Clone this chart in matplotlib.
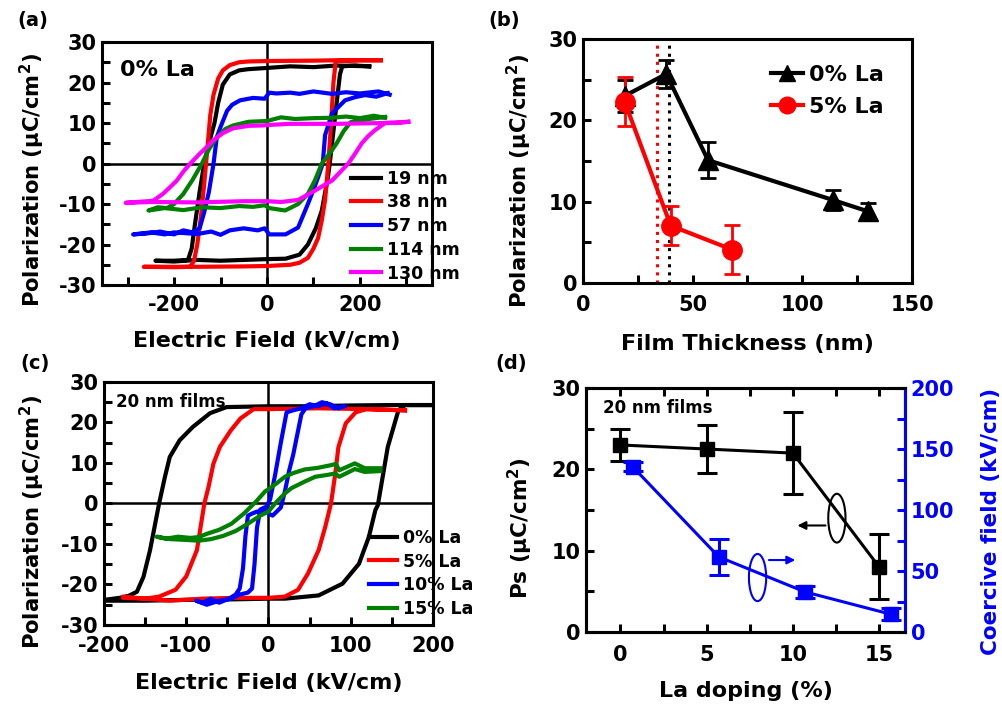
import matplotlib
matplotlib.use("Agg")
import matplotlib.pyplot as plt
from matplotlib.patches import Ellipse
from matplotlib.lines import Line2D

plt.rcParams['font.family'] = ['DejaVu Sans']
plt.rcParams['font.weight'] = 'bold'
plt.rcParams['axes.labelweight'] = 'bold'
plt.rcParams['axes.unicode_minus'] = False

# ---------------- Panel (a): 0% La, thickness series ----------------
a_labels = ['19 nm', '38 nm', '57 nm', '114 nm', '130 nm']
a_colors = ['black', 'red', 'blue', 'green', 'magenta']

a19_up_E = [220, 150, 100, 50, 0, -40, -60, -80, -95, -105, -113, -125, -135, -145, -155, -162, -170, -200, -240]
a19_up_P = [24, 24.2, 23.8, 24, 23.6, 23.3, 23, 22, 19.5, 15, 10, 5, 0, -7, -15, -21, -23.8, -24, -24]
a19_dn_E = [-240, -200, -150, -100, -50, 0, 40, 70, 88, 105, 118, 131, 135, 145, 152, 157, 162, 190, 220]
a19_dn_P = [-24, -24.2, -23.8, -24, -23.8, -23.6, -23.5, -22.5, -20, -16, -11.6, -3.5, 0, 10, 17, 22, 24, 24.2, 24]

a38_up_E = [245, 150, 100, 0, -40, -60, -80, -95, -105, -115, -122, -128, -135, -142, -150, -157, -165, -200, -265]
a38_up_P = [25.5, 25.5, 25.4, 25.3, 25.2, 25, 24.3, 23, 21, 17, 12, 4, -5, -13, -20, -24, -25.5, -25.6, -25.5]
a38_dn_E = [-265, -150, -50, 0, 50, 70, 88, 100, 110, 118, 125, 132, 138, 143, 148, 200, 245]
a38_dn_P = [-25.5, -25.5, -25.4, -25.3, -25, -24.5, -23.3, -21, -18.4, -14, -9, 0, 10, 20, 25.3, 25.5, 25.5]

a57_up_E = [264, 240, 200, 170, 140, 100, 70, 50, 20, 5, -5, -30, -58, -75, -86, -100, -108, -115, -125, -135, -145, -160, -180, -200, -230, -260, -288]
a57_up_P = [17, 17.8, 17.3, 17.6, 17.2, 17.8, 17.2, 17.5, 17.3, 17.5, 16, 16.2, 15.6, 14.5, 13, 9, 6.5, 0, -7, -12, -16, -17, -16.5, -17.5, -16.8, -17.3, -17.5]
a57_dn_E = [-288, -250, -220, -200, -150, -120, -100, -80, -50, -20, -5, 5, 40, 67, 88, 100, 110, 120, 125, 140, 168, 190, 211, 235, 260]
a57_dn_P = [-17.5, -17, -17.5, -17, -17.4, -16.8, -17.6, -16.5, -16, -16.5, -16, -17.5, -17.5, -15.8, -10, -6.5, -3.4, 0, 7, 12.4, 15.6, 16.4, 16.9, 16.5, 17.4]

a114_up_E = [254, 230, 200, 170, 140, 100, 60, 30, 0, -40, -73, -90, -108, -125, -140, -160, -180, -200, -215, -235, -255]
a114_up_P = [11.3, 11.8, 11.2, 11.6, 11.3, 11.2, 11, 11.4, 10.5, 10.3, 9.4, 8.5, 6.5, 3.5, 0, -4, -7.5, -10, -11, -10.8, -11.6]
a114_dn_E = [-255, -220, -180, -140, -100, -60, -30, -5, 5, 39, 67, 88, 103, 118, 135, 150, 165, 180, 220, 254]
a114_dn_P = [-11.6, -11, -11.5, -10.8, -11, -10.5, -10.7, -10.3, -11, -11.6, -10, -7.5, -4.2, 0, 2.5, 5, 8, 10.2, 11, 11.5]

a130_up_E = [304, 250, 150, 50, 0, -9, -40, -73, -95, -116, -130, -144, -165, -180, -194, -210, -224, -245, -304]
a130_up_P = [10.3, 10, 9.8, 9.8, 9.5, 9.4, 9.3, 8.7, 7.5, 5.7, 4, 2.5, 0, -2, -4.2, -6, -7.5, -9.2, -9.7]
a130_dn_E = [-304, -250, -150, -50, 0, 30, 67, 103, 140, 175, 190, 204, 218, 232, 254, 280, 304]
a130_dn_P = [-9.7, -9.5, -9.6, -9.3, -9.3, -9.5, -9, -6.7, -4.2, 0, 2.5, 5, 6.8, 8.2, 10, 10, 10.3]

# ---------------- Panel (b): Polarization vs thickness ----------------
b_t0 = [19, 38, 57, 114, 130]
b_P0 = [23, 25.7, 15.1, 10.2, 8.8]
b_err0 = [2.0, 1.7, 2.2, 1.2, 1.0]
b_t5 = [19, 40, 68]
b_P5 = [22.3, 7.05, 4.1]
b_err5 = [3.0, 2.4, 3.0]
b_vline0 = 39.4
b_vline5 = 33.7
b_labels = ['0% La', '5% La']

# ---------------- Panel (c): 20 nm films, La series ----------------
c_labels = ['0% La', '5% La', '10% La', '15% La']
c_colors = ['black', 'red', 'blue', 'green']

c0_up_E = [200, 150, 100, 50, 0, -51, -71, -92, -108, -120, -126, -133, -144, -152, -160, -170, -181, -200]
c0_up_P = [24.3, 24.3, 24.2, 24, 24, 23.8, 22.3, 18.9, 15.6, 11.5, 6.5, 0, -11.5, -18.1, -21.8, -22.8, -23.3, -23.8]
c0_dn_E = [-200, -150, -100, -50, 0, 20, 61, 90, 110, 122, 130, 133, 145, 158, 166, 180, 200]
c0_dn_P = [-24, -24, -23.8, -23.7, -23.5, -23.5, -22.7, -19.8, -14.9, -8.3, -1.6, -0.4, 13.9, 23, 24.3, 24.3, 24.3]

c5_up_E = [166, 120, 60, 0, -18, -34, -46, -59, -67, -73, -78, -87, -100, -113, -133, -150, -177]
c5_up_P = [23, 23.3, 23.5, 23.3, 23.3, 21, 18, 14, 9.8, 4, 0, -11.5, -18, -21.3, -23, -23.5, -23]
c5_dn_E = [-177, -150, -120, -80, -40, 0, 20, 36, 48, 61, 69, 76, 81, 85, 94, 106, 119, 166]
c5_dn_P = [-23.3, -23.5, -24, -23.5, -23.3, -23.3, -23, -21.3, -17.3, -11.5, -5.8, 0, 7, 13.9, 19.8, 22.5, 23.3, 23]

c10_up_E = [92, 80, 70, 60, 50, 40, 30, 22, 15, 8, 2, -3, -8, -14, -20, -25, -28, -31, -35, -40, -48, -60, -70, -80, -88]
c10_up_P = [24, 23.5, 24.8, 24, 24.5, 23.5, 23, 22.5, 15, 7, 1, -1, -2, -2, -2.5, -3, -8, -16, -21, -22.5, -23.5, -24.5, -23.5, -24.5, -24]
c10_dn_E = [-88, -75, -60, -45, -35, -25, -20, -17, -14, -10, -5, 0, 5, 10, 15, 20, 25, 30, 35, 40, 45, 55, 65, 75, 85, 92]
c10_dn_P = [-24, -25, -24, -23.5, -22.5, -22, -21, -15, -6, -1.5, -1, -2.5, -3, -2, -1, 3, 8, 12, 17, 22, 23.5, 24, 25, 24.5, 23.5, 24]

c15_up_E = [136, 117, 105, 95, 86, 82, 77, 60, 44, 30, 20, 10, 0, -4, -15, -30, -45, -60, -75, -85, -95, -110, -125, -136]
c15_up_P = [8.7, 8.7, 9.9, 9.0, 8.2, 9.8, 9.5, 8.8, 8.4, 7.5, 6.6, 5, 3.5, 3.0, 0.5, -2.5, -5, -6.5, -7.5, -8.3, -8.5, -8.2, -8.7, -8.2]
c15_dn_E = [-136, -120, -100, -85, -70, -55, -40, -25, -10, 0, 8, 20, 28, 45, 57, 70, 81, 86, 95, 105, 117, 136]
c15_dn_P = [-8.2, -8.8, -9, -9.2, -8.8, -8, -6.8, -5, -3, -2, 0, 2.5, 3.8, 5.5, 6.6, 7, 7.4, 6.6, 7.5, 8.5, 7.8, 8]

# ---------------- Panel (d): Ps and coercive field vs La ----------------
d_La_Ps = [0, 5, 10, 15]
d_Ps = [23, 22.5, 22, 8]
d_Ps_err = [2, 3, 5, 4]
d_La_Ec = [0.7, 5.7, 10.7, 15.7]
d_Ec = [135.6, 61.6, 32.9, 14.5]
d_Ec_err = [4, 14.5, 5, 5]

LW = 3.0
SPW = 2.2
TICKFS = 15
LABFS = 16
YLABFS = 15.2

fig = plt.figure(figsize=(10.02, 7.05), dpi=100)
axa = fig.add_axes([0.1018, 0.5957, 0.3293, 0.3447])
axb = fig.add_axes([0.5818, 0.5986, 0.3284, 0.3461])
axc = fig.add_axes([0.1038, 0.1135, 0.3283, 0.3447])
axd = fig.add_axes([0.5848, 0.1035, 0.3184, 0.3461])


def style(ax, top=False, right=False, xpad=6):
    for s in ax.spines.values():
        s.set_linewidth(SPW)
    ax.tick_params(which='both', direction='in', top=top, right=right, width=SPW,
                   labelsize=TICKFS)
    ax.tick_params(axis='x', which='both', pad=xpad)
    ax.tick_params(axis='y', which='both', pad=4)
    ax.tick_params(which='major', length=6)
    ax.tick_params(which='minor', length=6)
    for lab in ax.get_xticklabels() + ax.get_yticklabels():
        lab.set_fontweight('bold')


# ---- (a)
ups = [(a19_up_E, a19_up_P), (a38_up_E, a38_up_P), (a57_up_E, a57_up_P), (a114_up_E, a114_up_P), (a130_up_E, a130_up_P)]
dns = [(a19_dn_E, a19_dn_P), (a38_dn_E, a38_dn_P), (a57_dn_E, a57_dn_P), (a114_dn_E, a114_dn_P), (a130_dn_E, a130_dn_P)]
axa.axhline(0, color='black', lw=1.8, zorder=1)
axa.axvline(0, color='black', lw=1.8, zorder=1)
for (ue, up), (de, dp), c, l in zip(ups, dns, a_colors, a_labels):
    axa.plot(ue + de, up + dp, color=c, lw=LW, label=l, solid_joinstyle='round', zorder=3)
axa.set_xlim(-355, 355)
axa.set_ylim(-30, 30)
axa.set_xticks([-200, 0, 200])
axa.set_xticks([-300, -100, 100, 300], minor=True)
axa.set_yticks([-30, -20, -10, 0, 10, 20, 30])
axa.set_yticks([-25, -15, -5, 5, 15, 25], minor=True)
style(axa, xpad=7)
axa.set_xlabel('Electric Field (kV/cm)', fontsize=LABFS, fontweight='bold', labelpad=12)
axa.set_ylabel('Polarization (μC/cm$^\\mathbf{2}$)', fontsize=YLABFS, fontweight='bold')
axa.yaxis.set_label_coords(-0.166, 0.43)
axa.text(0.055, 0.925, '0% La', transform=axa.transAxes, fontsize=16, fontweight='bold', va='top')
axa.legend(loc='upper left', bbox_to_anchor=(0.755, 0.475), frameon=False, fontsize=12.5,
           handlelength=1.7, handletextpad=0.35, labelspacing=0.33, borderaxespad=0, borderpad=0)

# ---- (b)
axb.axvline(b_vline5, ymax=29.5 / 30, color='red', ls=':', lw=2.2, zorder=1)
axb.axvline(b_vline0, ymax=29.5 / 30, color='black', ls=':', lw=2.2, zorder=1)
axb.errorbar(b_t0, b_P0, yerr=b_err0, color='black', lw=LW, marker='^', ms=15, capsize=6,
             elinewidth=2, capthick=2, zorder=3)
axb.errorbar(b_t5, b_P5, yerr=b_err5, color='red', lw=LW, marker='o', ms=14, capsize=6,
             elinewidth=2, capthick=2, zorder=3)
axb.set_xlim(0, 150)
axb.set_ylim(0, 30)
axb.set_xticks([0, 50, 100, 150])
axb.set_xticks([25, 75, 125], minor=True)
axb.set_yticks([0, 10, 20, 30])
axb.set_yticks([5, 15, 25], minor=True)
style(axb, xpad=9)
axb.set_xlabel('Film Thickness (nm)', fontsize=LABFS, fontweight='bold', labelpad=13)
axb.set_ylabel('Polarization (μC/cm$^\\mathbf{2}$)', fontsize=YLABFS, fontweight='bold')
axb.yaxis.set_label_coords(-0.148, 0.418)
b_handles = [Line2D([], [], color='black', lw=LW, marker='^', ms=12),
             Line2D([], [], color='red', lw=LW, marker='o', ms=12)]
axb.legend(b_handles, b_labels, loc='upper left', bbox_to_anchor=(0.57, 0.895), frameon=False,
           fontsize=16, handlelength=1.45, handletextpad=0.3, labelspacing=0.55,
           borderaxespad=0, borderpad=0)

# ---- (c)
ups = [(c0_up_E, c0_up_P), (c5_up_E, c5_up_P), (c10_up_E, c10_up_P), (c15_up_E, c15_up_P)]
dns = [(c0_dn_E, c0_dn_P), (c5_dn_E, c5_dn_P), (c10_dn_E, c10_dn_P), (c15_dn_E, c15_dn_P)]
axc.axhline(0, color='black', lw=1.8, zorder=1)
axc.axvline(0, color='black', lw=1.8, zorder=1)
for (ue, up), (de, dp), c, l in zip(ups, dns, c_colors, c_labels):
    axc.plot(ue + de, up + dp, color=c, lw=LW, label=l, solid_joinstyle='round', zorder=3)
axc.set_xlim(-200, 200)
axc.set_ylim(-30, 30)
axc.set_xticks([-200, -100, 0, 100, 200])
axc.set_xticks([-150, -50, 50, 150], minor=True)
axc.set_yticks([-30, -20, -10, 0, 10, 20, 30])
axc.set_yticks([-25, -15, -5, 5, 15, 25], minor=True)
style(axc, xpad=8)
axc.set_xlabel('Electric Field (kV/cm)', fontsize=LABFS, fontweight='bold', labelpad=12)
axc.set_ylabel('Polarization (μC/cm$^\\mathbf{2}$)', fontsize=YLABFS, fontweight='bold')
axc.yaxis.set_label_coords(-0.173, 0.424)
axc.text(0.035, 0.955, '20 nm films', transform=axc.transAxes, fontsize=12, fontweight='bold', va='top')
axc.legend(loc='upper left', bbox_to_anchor=(0.805, 0.395), frameon=False, fontsize=12.5,
           handlelength=1.6, handletextpad=0.35, labelspacing=0.32, borderaxespad=0, borderpad=0)

# ---- (d)
axd2 = axd.twinx()
axd.errorbar(d_La_Ps, d_Ps, yerr=d_Ps_err, color='black', lw=2.2, marker='s', ms=10, capsize=7,
             elinewidth=2.2, capthick=2.2, zorder=3)
axd2.errorbar(d_La_Ec, d_Ec, yerr=d_Ec_err, color='blue', lw=2.2, marker='s', ms=10, capsize=7,
              elinewidth=2.2, capthick=2.2, zorder=3)
axd.set_xlim(-2.0, 16.5)
axd.set_ylim(0, 30)
axd2.set_ylim(0, 200)
axd.set_xticks([0, 5, 10, 15])
axd.set_xticks([2.5, 7.5, 12.5], minor=True)
axd.set_yticks([0, 10, 20, 30])
axd.set_yticks([5, 15, 25], minor=True)
axd2.set_yticks([0, 50, 100, 150, 200])
axd2.set_yticks([25, 75, 125, 175], minor=True)
style(axd, top=True, xpad=9)
for s in axd2.spines.values():
    s.set_linewidth(SPW)
axd2.spines['right'].set_color('blue')
axd2.tick_params(which='both', direction='in', width=SPW, length=6, colors='blue',
                 labelsize=TICKFS, pad=4)
for lab in axd2.get_yticklabels():
    lab.set_fontweight('bold')
axd.set_xlabel('La doping (%)', fontsize=LABFS, fontweight='bold', labelpad=12)
axd.set_ylabel('Ps (μC/cm$^\\mathbf{2}$)', fontsize=15.5, fontweight='bold')
axd.yaxis.set_label_coords(-0.16, 0.426)
axd2.set_ylabel('Coercive field (kV/cm)', fontsize=15.5, fontweight='bold', color='blue')
axd2.yaxis.set_label_coords(1.238, 0.455)
axd.text(-1.0, 28.6, '20 nm films', fontsize=12, fontweight='bold', va='top')
axd.add_patch(Ellipse((12.55, 14.0), 1.0, 6.0, fill=False, ec='black', lw=1.5, zorder=4))
axd.annotate('', xy=(10.1, 13.1), xytext=(12.05, 13.1),
             arrowprops=dict(arrowstyle='-|>', color='black', lw=1.5, mutation_scale=12))
axd.add_patch(Ellipse((7.95, 6.7), 1.0, 5.8, fill=False, ec='blue', lw=1.5, zorder=4))
axd.annotate('', xy=(10.3, 8.85), xytext=(8.45, 8.85),
             arrowprops=dict(arrowstyle='-|>', color='blue', lw=1.5, mutation_scale=12))

# panel labels
fig.text(0.017, 0.984, '(a)', fontsize=14, fontweight='bold', va='top')
fig.text(0.487, 0.984, '(b)', fontsize=14, fontweight='bold', va='top')
fig.text(0.02, 0.498, '(c)', fontsize=14, fontweight='bold', va='top')
fig.text(0.494, 0.498, '(d)', fontsize=14, fontweight='bold', va='top')

fig.savefig('out.png', dpi=100)
